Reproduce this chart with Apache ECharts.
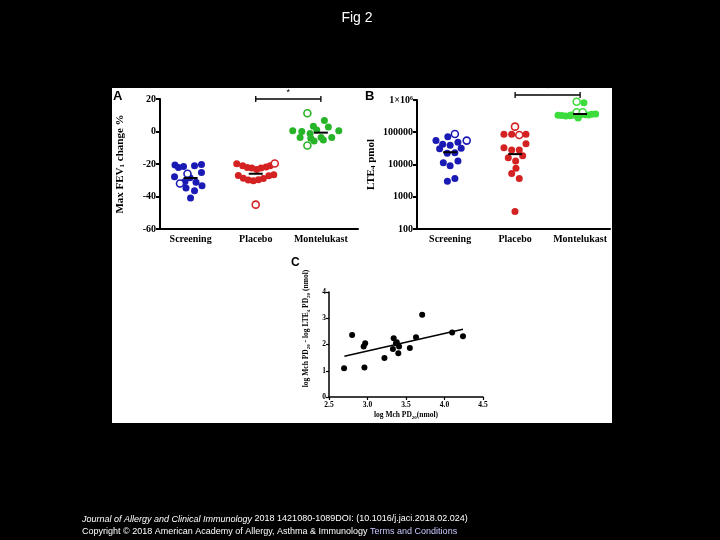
<!DOCTYPE html>
<html><head><meta charset="utf-8">
<script src="https://cdn.jsdelivr.net/npm/echarts@6/dist/echarts.min.js"></script>
<style>html,body{margin:0;padding:0;background:#000}#c{width:720px;height:540px}</style>
</head><body><div id="c"></div>
<script>
// ---------- DATA ----------
const groups = ['Screening', 'Placebo', 'Montelukast'];
// Panel A: Max FEV1 change % ; [x-position within group, value]
const aScreenFilled = [[0.76,-20.6],[0.814,-22.2],[0.891,-21.5],[1.06,-21],[1.167,-20.3],[1.167,-25.3],[0.753,-27.9],[0.991,-28.5],[1.083,-31.3],[1.175,-33.4],[0.929,-34.8],[1.06,-36.4],[0.999,-40.9],[0.914,-30.7]];
const aScreenOpen = [[0.952,-26],[0.837,-32]];
const aPlaceboFilled = [[1.708,-19.9],[1.8,-21.1],[1.871,-22.1],[1.939,-22.5],[2.015,-23.4],[2.081,-22.5],[2.158,-21.9],[2.22,-21.1],[1.733,-27],[1.81,-28.7],[1.886,-29.9],[1.963,-30.3],[2.04,-29.7],[2.117,-28.9],[2.2,-27.2],[2.277,-26.6]];
const aPlaceboOpen = [[2.292,-19.7],[2.0,-45]];
const aMonteFilled = [[3.054,6.7],[2.885,3.2],[3.115,2.8],[2.568,0.4],[2.707,0],[2.937,1],[3.275,0.4],[2.681,-3.7],[2.845,-4.1],[3.003,-3.7],[3.167,-3.7],[2.896,-5.8],[3.038,-5.2],[2.834,-1.2]];
const aMonteOpen = [[2.793,11.2],[2.793,-8.6]];
const aMedians = [-28.6, -26, -0.7];
const aSig = [[2, 3, 20]];

// Panel B: LTE4 pmol (log)
const bScreenFilled = [[0.782,55000],[0.964,73000],[0.885,42400],[1.0,39500],[1.12,49000],[0.838,30900],[1.17,31800],[0.955,22300],[1.073,23300],[0.895,11400],[1.12,12900],[1.0,9100],[0.958,3000],[1.073,3700]];
const bScreenOpen = [[1.073,88500],[1.255,55000]];
const bPlaceboFilled = [[1.828,87000],[1.947,87000],[2.167,87000],[1.828,33300],[2.167,44300],[1.947,28200],[2.064,28200],[1.895,16300],[2.008,12900],[2.116,18800],[2.013,7600],[1.947,5300],[2.064,3700],[1.998,350]];
const bPlaceboOpen = [[1.998,149000],[2.064,82000]];
const bMonteFilled = [[3.059,825000],[2.66,335000],[2.72,330000],[2.78,320000],[2.84,325000],[2.9,335000],[3.0,340000],[3.08,350000],[3.13,345000],[3.18,360000],[3.24,370000],[2.97,275000],[2.86,345000]];
const bMonteOpen = [[2.947,885000],[2.947,415000],[3.04,415000]];
const bMedians = [24000, 21000, 368000];
const bSig = [[2, 3, 1430000]];

// Panel C
const cPoints = [[2.696,1.10],[2.80,2.36],[2.95,1.92],[2.97,2.05],[2.96,1.12],[3.22,1.49],[3.33,1.83],[3.34,2.24],[3.37,2.05],[3.38,2.09],[3.41,1.92],[3.40,1.67],[3.55,1.87],[3.63,2.28],[3.71,3.13],[4.10,2.46],[4.24,2.31]];
const cFit = [[2.7,1.55],[4.24,2.58]];

// ---------- STYLE ----------
const blue = '#1a1ab4', red = '#d42222', greenA = '#28b428', greenB = '#3cdc3c';
const serif = '"Liberation Serif","Times New Roman",serif';
const sans = '"Liberation Sans",Arial,sans-serif';

function filled(data, color, xi, yi) {
  return {type:'scatter', xAxisIndex:xi, yAxisIndex:yi, data, symbolSize:7, itemStyle:{color, opacity:1}, z:3};
}
function open(data, color, xi, yi) {
  return {type:'scatter', xAxisIndex:xi, yAxisIndex:yi, data, symbolSize:7, itemStyle:{color:'#fff', borderColor:color, borderWidth:1.6, opacity:1}, z:3};
}
function medians(vals, xi, yi) {
  return {type:'custom', xAxisIndex:xi, yAxisIndex:yi, z:5,
    data: vals.map((m,i)=>[i+1, m]),
    renderItem:(p, api)=>{ const c = api.coord([api.value(0), api.value(1)]);
      return {type:'line', shape:{x1:c[0]-7,y1:c[1],x2:c[0]+7,y2:c[1]}, style:{stroke:'#000', lineWidth:2}}; }};
}
function sig(d, xi, yi) {
  return {type:'custom', xAxisIndex:xi, yAxisIndex:yi, z:5, clip:false, encode:{x:[0,1], y:2}, data:d,
    renderItem:(p, api)=>{ const a = api.coord([api.value(0), api.value(2)]); const b = api.coord([api.value(1), api.value(2)]);
      return {type:'group', children:[
        {type:'line', shape:{x1:a[0],y1:a[1],x2:b[0],y2:b[1]}, style:{stroke:'#000', lineWidth:1.3}},
        {type:'line', shape:{x1:a[0],y1:a[1]-3,x2:a[0],y2:a[1]+3}, style:{stroke:'#000', lineWidth:1.3}},
        {type:'line', shape:{x1:b[0],y1:b[1]-3,x2:b[0],y2:b[1]+3}, style:{stroke:'#000', lineWidth:1.3}},
        {type:'text', style:{text:'*', x:(a[0]+b[0])/2, y:a[1]-2, align:'center', verticalAlign:'bottom', font:'9px '+sans, fill:'#000'}}
      ]}; }};
}
const axLine = w => ({show:true, onZero:false, lineStyle:{color:'#000', width:w}});
const tickLab = fs => ({color:'#000', fontFamily:serif, fontWeight:'bold', fontSize:fs});

const option = {
  backgroundColor:'#000',
  animation:false,
  grid:[
    {left:160, top:99, width:198, height:130},
    {left:417, top:100, width:193, height:129},
    {left:329, top:292, width:154, height:105}
  ],
  xAxis:[
    {gridIndex:0, type:'value', min:0.53, max:3.57, axisLine:axLine(2), splitLine:{show:false}, axisTick:{show:false},
     axisLabel:Object.assign(tickLab(10), {customValues:[1,2,3], formatter:v=>groups[Math.round(v)-1], margin:5})},
    {gridIndex:1, type:'value', min:0.49, max:3.46, axisLine:axLine(2), splitLine:{show:false}, axisTick:{show:false},
     axisLabel:Object.assign(tickLab(10), {customValues:[1,2,3], formatter:v=>groups[Math.round(v)-1], margin:5})},
    {gridIndex:2, type:'value', min:2.5, max:4.5, interval:0.5, axisLine:axLine(1.5), splitLine:{show:false},
     axisTick:{show:true, length:3, lineStyle:{color:'#000', width:1.2}},
     axisLabel:Object.assign(tickLab(7.5), {formatter:v=>v.toFixed(1), margin:4}),
     name:'log Mch PD{sub|20}(nmol)', nameLocation:'middle', nameGap:14,
     nameTextStyle:{color:'#000', fontFamily:serif, fontWeight:'bold', fontSize:7.5, rich:{sub:{fontSize:5, fontFamily:serif, fontWeight:'bold', color:'#000', verticalAlign:'bottom', padding:[4,0,0,0]}}}}
  ],
  yAxis:[
    {gridIndex:0, type:'value', min:-60, max:20, interval:20, axisLine:axLine(2), splitLine:{show:false},
     axisTick:{show:true, length:4, lineStyle:{color:'#000', width:2}},
     axisLabel:Object.assign(tickLab(10), {margin:4, formatter:v=>String(v)}),
     name:'Max FEV{sub|1} change %', nameLocation:'middle', nameGap:34,
     nameTextStyle:{color:'#000', fontFamily:serif, fontWeight:'bold', fontSize:11, rich:{sub:{fontSize:7, fontFamily:serif, fontWeight:'bold', color:'#000', verticalAlign:'bottom', padding:[5,0,0,0]}}}},
    {gridIndex:1, type:'log', logBase:10, min:100, max:1000000, axisLine:axLine(2), splitLine:{show:false},
     axisTick:{show:true, length:4, lineStyle:{color:'#000', width:2}},
     axisLabel:Object.assign(tickLab(10), {margin:4, formatter:v=>v>=1000000?'1×10\u2076':String(v)}),
     name:'LTE{sub|4} pmol', nameLocation:'middle', nameGap:40,
     nameTextStyle:{color:'#000', fontFamily:serif, fontWeight:'bold', fontSize:11, rich:{sub:{fontSize:7, fontFamily:serif, fontWeight:'bold', color:'#000', verticalAlign:'bottom', padding:[5,0,0,0]}}}},
    {gridIndex:2, type:'value', min:0, max:4, interval:1, axisLine:axLine(1.5), splitLine:{show:false},
     axisTick:{show:true, length:3, lineStyle:{color:'#000', width:1.2}},
     axisLabel:Object.assign(tickLab(7.5), {margin:3}),
     name:'log Mch PD{sub|20} - log LTE{sub|4} PD{sub|20} (nmol)', nameLocation:'middle', nameGap:18,
     nameTextStyle:{color:'#000', fontFamily:serif, fontWeight:'bold', fontSize:7.5, padding:[0,0,0,32], rich:{sub:{fontSize:5, fontFamily:serif, fontWeight:'bold', color:'#000', verticalAlign:'bottom', padding:[4,0,0,0]}}}}
  ],
  series:[
    filled(aScreenFilled, blue, 0, 0), open(aScreenOpen, blue, 0, 0),
    filled(aPlaceboFilled, red, 0, 0), open(aPlaceboOpen, red, 0, 0),
    filled(aMonteFilled, greenA, 0, 0), open(aMonteOpen, greenA, 0, 0),
    medians(aMedians, 0, 0), sig(aSig, 0, 0),
    filled(bScreenFilled, blue, 1, 1), open(bScreenOpen, blue, 1, 1),
    filled(bPlaceboFilled, red, 1, 1), open(bPlaceboOpen, red, 1, 1),
    filled(bMonteFilled, greenB, 1, 1), open(bMonteOpen, greenB, 1, 1),
    medians(bMedians, 1, 1), sig(bSig, 1, 1),
    {type:'scatter', xAxisIndex:2, yAxisIndex:2, data:cPoints, symbolSize:6, itemStyle:{color:'#000', opacity:1}, z:3},
    {type:'line', xAxisIndex:2, yAxisIndex:2, data:cFit, symbol:'none', lineStyle:{color:'#000', width:1.5}, z:4}
  ],
  graphic:[
    {type:'rect', shape:{x:112, y:88, width:500, height:335}, style:{fill:'#fff'}, z:-10},
    {type:'text', x:357, y:18, style:{text:'Fig 2', font:'14px '+sans, fill:'#fff', align:'center', verticalAlign:'middle'}},
    {type:'text', x:113, y:96, style:{text:'A', font:'bold 13px '+sans, fill:'#000', verticalAlign:'middle'}},
    {type:'text', x:365, y:96, style:{text:'B', font:'bold 13px '+sans, fill:'#000', verticalAlign:'middle'}},
    {type:'text', x:291, y:263, style:{text:'C', font:'bold 12px '+sans, fill:'#000', verticalAlign:'middle'}},
    {type:'text', x:82, y:519, style:{text:'{i|Journal of Allergy and Clinical Immunology} 2018 1421080-1089DOI: (10.1016/j.jaci.2018.02.024)',
      font:'9px '+sans, fill:'#fff', verticalAlign:'middle', rich:{i:{fontStyle:'italic', fontSize:9, fontFamily:sans, fill:'#fff'}}}},
    {type:'text', x:82, y:532, style:{text:'Copyright © 2018 American Academy of Allergy, Asthma & Immunology {t|Terms and Conditions}',
      font:'9px '+sans, fill:'#fff', verticalAlign:'middle', rich:{t:{fontSize:9, fontFamily:sans, fill:'#c8c8ff'}}}}
  ]
};
const chart = echarts.init(document.getElementById('c'), null, {renderer:'canvas'});
chart.setOption(option);
</script></body></html>
